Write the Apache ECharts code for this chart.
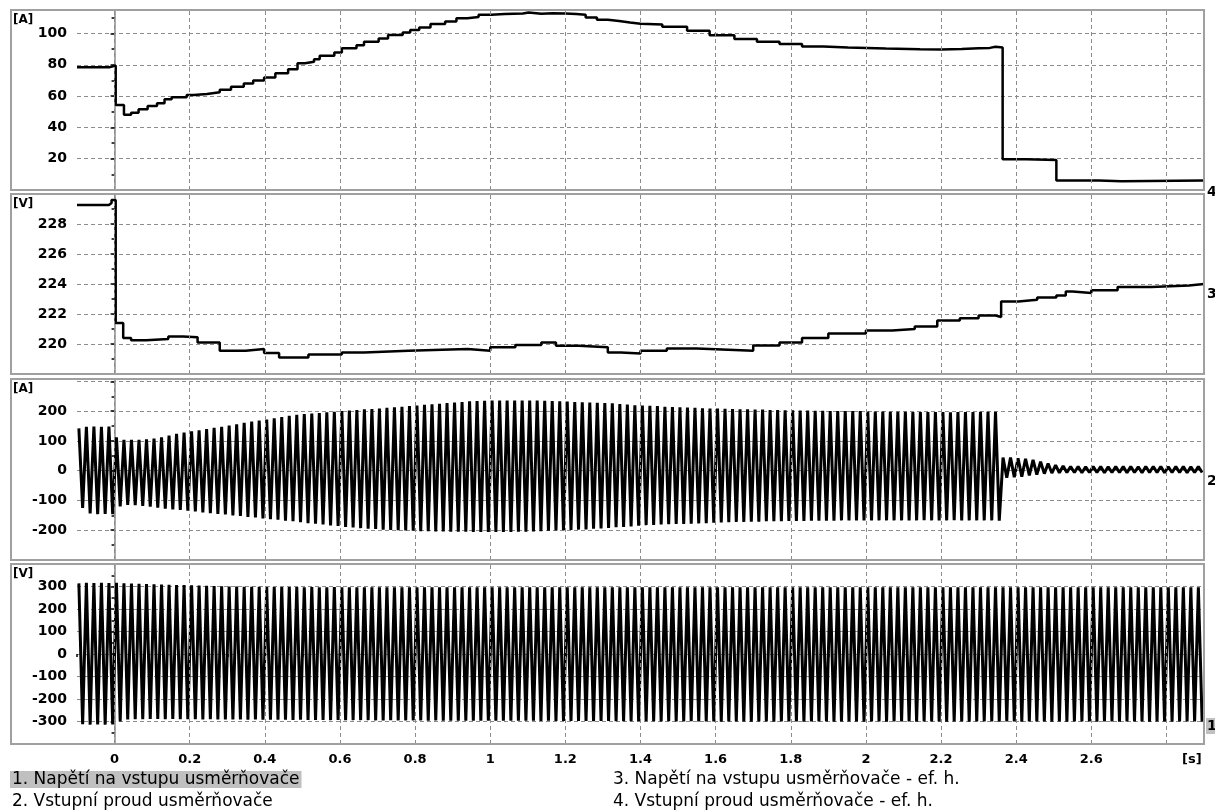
<!DOCTYPE html>
<html>
<head>
<meta charset="utf-8">
<title>Usměrňovač - průběhy</title>
<script src="https://cdn.jsdelivr.net/npm/echarts@6/dist/echarts.min.js"></script>
<style>
  html, body { margin: 0; padding: 0; background: #fff; }
  #main { width: 1215px; height: 812px; }
</style>
</head>
<body>
<div id="main"></div>
<script>
// time axis [s]
var timeStart = -0.1;
var timeEnd = 2.9;
var cyclePeriod = 0.02; // 50 Hz, one peak pair per mains cycle
var xGridLines = [0, 0.2, 0.4, 0.6, 0.8, 1, 1.2, 1.4, 1.6, 1.8, 2, 2.2, 2.4, 2.6, 2.8];
var xTickLabels = ['0', '0.2', '0.4', '0.6', '0.8', '1', '1.2', '1.4', '1.6', '1.8', '2', '2.2', '2.4', '2.6'];

// 4. Vstupní proud usměrňovače - ef. h. [A]
var rmsCurrentTime = [-0.1, -0.012, 0.003, 0.025, 0.044, 0.064, 0.088, 0.113, 0.133, 0.152, 0.192, 0.211,
    0.246, 0.28, 0.31, 0.344, 0.369, 0.398, 0.428, 0.462, 0.487, 0.507, 0.531, 0.546, 0.585, 0.605, 0.644,
    0.664, 0.703, 0.728, 0.767, 0.787, 0.811, 0.841, 0.88, 0.91, 0.939, 0.969, 1.003, 1.038, 1.087, 1.102,
    1.136, 1.166, 1.2, 1.229, 1.254, 1.284, 1.313, 1.343, 1.372, 1.4, 1.458, 1.524, 1.584, 1.65, 1.71, 1.77,
    1.83, 1.887, 1.952, 2.053, 2.144, 2.2, 2.255, 2.3, 2.33, 2.345, 2.364, 2.426, 2.507, 2.62, 2.68, 2.9];
var rmsCurrentValue = [78.5, 79.5, 54.3, 48, 49.4, 51.6, 53.7, 55.4, 58, 59.3, 60.7, 61.4,
    62.5, 64, 66, 68, 70, 71.8, 74.6, 77.2, 81, 81.9, 83.6, 85.7, 87.8, 90.6, 92.5,
    94.7, 96.8, 99, 100.6, 102.3, 103.8, 106, 107.7, 109.8, 110.5, 112, 112.4, 112.8, 113.4, 112.6,
    113, 112.8, 112.4, 112, 110.2, 108.7, 107.9, 107, 106.2, 105.8, 104.3, 101.7, 98.9, 96.4, 94.7, 93.2,
    91.7, 91, 90.4, 90, 89.8, 90.1, 90.6, 90.8, 91.5, 91.1, 19.6, 19.1, 6.1, 5.6, 6, 6];

// 3. Napětí na vstupu usměrňovače - ef. h. [V]
var rmsVoltageTime = [-0.1, -0.015, -0.008, 0.003, 0.023, 0.044, 0.084, 0.143, 0.182, 0.221, 0.28, 0.349,
    0.398, 0.438, 0.516, 0.605, 0.664, 0.782, 0.94, 1.0, 1.067, 1.136, 1.175, 1.236, 1.313, 1.348, 1.4,
    1.47, 1.55, 1.65, 1.7, 1.77, 1.83, 1.9, 2.0, 2.07, 2.13, 2.19, 2.25, 2.3, 2.345, 2.36, 2.406, 2.456,
    2.507, 2.532, 2.55, 2.6, 2.67, 2.76, 2.86, 2.9];
var rmsVoltageValue = [229.27, 229.4, 229.6, 221.4, 220.4, 220.25, 220.33, 220.5, 220.45, 220.1, 219.55, 219.66,
    219.4, 219.1, 219.3, 219.44, 219.55, 219.66, 219.55, 219.78, 219.93, 220.1, 219.89, 219.78, 219.44, 219.37, 219.55,
    219.7, 219.6, 219.55, 219.9, 220.1, 220.4, 220.7, 220.9, 221.0, 221.16, 221.56, 221.72, 221.9, 221.8, 222.84, 222.95, 223.1,
    223.24, 223.5, 223.4, 223.58, 223.8, 223.9, 224.0, 224.0];

// 2. Vstupní proud usměrňovače [A] - positive / negative peak of every cycle
var currentPos = [
    142, 147, 148, 147, 148, 112, 104, 104, 104, 105,
    108, 112, 118, 124, 128, 132, 136, 140, 144, 147,
    152, 156, 161, 165, 168, 172, 176, 180, 184, 188,
    190, 192, 194, 196, 198, 200, 202, 204, 206, 207,
    209, 211, 213, 215, 217, 219, 221, 223, 225, 227,
    229, 231, 233, 234, 235, 236, 236, 236, 236, 236,
    236, 236, 235, 234, 233, 232, 231, 230, 229, 228,
    227, 226, 224, 222, 220, 219, 218, 217, 215, 214,
    213, 212, 211, 210, 209, 209, 208, 207, 206, 206,
    205, 205, 204, 204, 203, 203, 202, 202, 201, 201,
    200, 200, 200, 200, 200, 199, 199, 199, 198, 198,
    198, 197, 197, 197, 197, 197, 196, 197, 197, 197,
    198, 198, 198, 44, 44, 42, 40, 36, 30, 24,
    19, 16, 14, 14, 13, 14, 14, 13, 14, 14,
    14, 13, 14, 14, 14, 13, 14, 14, 13, 14
];
var currentNeg = [
    -125, -144, -146, -145, -146, -120, -115, -116, -118, -121,
    -124, -128, -130, -132, -134, -137, -140, -143, -145, -147,
    -150, -152, -155, -157, -160, -163, -165, -168, -170, -173,
    -176, -178, -181, -184, -186, -189, -191, -193, -195, -196,
    -198, -199, -200, -201, -202, -203, -203, -204, -204, -205,
    -205, -205, -206, -206, -206, -206, -206, -206, -205, -205,
    -204, -203, -202, -201, -200, -199, -198, -197, -195, -194,
    -192, -190, -189, -187, -185, -183, -182, -181, -180, -179,
    -179, -178, -177, -176, -175, -174, -173, -172, -172, -171,
    -171, -170, -170, -170, -169, -169, -169, -168, -168, -168,
    -168, -167, -167, -167, -167, -167, -167, -167, -167, -167,
    -167, -167, -166, -167, -167, -167, -166, -167, -167, -167,
    -167, -167, -168, -24, -22, -20, -16, -13, -10, -8,
    -7, -6, -6, -7, -6, -6, -7, -6, -6, -7,
    -6, -7, -6, -6, -7, -6, -6, -7, -6, -6
];

// 1. Napětí na vstupu usměrňovače [V] - positive / negative peak of every cycle
var voltagePos = [
    314, 316, 315, 316, 315, 316, 314, 313, 312, 311,
    310, 309, 308, 307, 306, 305, 304, 303, 302, 301,
    300, 300, 299, 299, 299, 298, 298, 298, 298, 298,
    297, 298, 297, 297, 298, 297, 297, 297, 296, 297,
    297, 296, 297, 297, 296, 297, 296, 296, 297, 296,
    296, 297, 296, 296, 297, 296, 296, 297, 296, 296,
    297, 296, 296, 297, 296, 296, 297, 296, 296, 297,
    296, 296, 297, 296, 296, 297, 296, 296, 297, 296,
    296, 297, 296, 296, 297, 296, 296, 297, 296, 296,
    297, 296, 296, 297, 296, 296, 297, 296, 296, 297,
    296, 296, 297, 296, 296, 297, 296, 296, 297, 296,
    296, 297, 296, 296, 297, 296, 296, 297, 296, 296,
    297, 296, 296, 297, 296, 296, 297, 296, 296, 297,
    296, 296, 297, 296, 296, 297, 296, 296, 297, 296,
    296, 297, 296, 296, 297, 296, 296, 297, 296, 296
];
var voltageNeg = [
    -312, -314, -313, -314, -313, -300, -291, -290, -290, -289,
    -289, -290, -289, -290, -290, -290, -291, -290, -291, -291,
    -291, -291, -292, -291, -292, -292, -292, -292, -293, -292,
    -293, -293, -293, -294, -293, -294, -294, -294, -294, -295,
    -295, -294, -295, -295, -295, -295, -296, -295, -296, -296,
    -296, -296, -296, -297, -296, -297, -297, -297, -297, -297,
    -297, -298, -297, -298, -298, -298, -298, -298, -299, -298,
    -298, -299, -299, -299, -299, -299, -299, -300, -299, -300,
    -300, -299, -300, -300, -300, -301, -300, -300, -300, -301,
    -300, -300, -301, -300, -300, -300, -301, -300, -300, -300,
    -301, -300, -300, -300, -301, -300, -300, -301, -300, -300,
    -300, -301, -300, -300, -300, -301, -300, -300, -301, -300,
    -300, -300, -301, -300, -300, -301, -300, -300, -300, -301,
    -300, -301, -300, -300, -300, -301, -300, -300, -301, -300,
    -300, -300, -301, -300, -300, -301, -300, -300, -300, -301
];

var seriesNames = ['1. Napětí na vstupu usměrňovače', '2. Vstupní proud usměrňovače',
    '3. Napětí na vstupu usměrňovače - ef. h.', '4. Vstupní proud usměrňovače - ef. h.'];

function pairs(xs, ys) {
    return xs.map(function (x, i) { return [x, ys[i]]; });
}
// one cycle = positive peak then negative peak
function peakPairs(pos, neg) {
    var out = [];
    for (var i = 0; i < pos.length; i++) {
        var t0 = timeStart + i * cyclePeriod;
        out.push([t0 + cyclePeriod * 0.25, pos[i]]);
        out.push([t0 + cyclePeriod * 0.75, neg[i]]);
    }
    return out;
}

var boldFont = {color: '#000', fontFamily: 'DejaVu Sans', fontWeight: 'bold', fontSize: 14};
var gridGray = '#8c8c8c';

function yAxisFor(idx, min, max, step, lo, hi) {
    return {
        type: 'value', gridIndex: idx, min: min, max: max, interval: step,
        axisLine: {show: true, lineStyle: {color: gridGray, width: 1.5}},
        axisTick: {show: true, length: 4, lineStyle: {color: '#000', width: 1.5}},
        minorTick: {show: true, splitNumber: 2, length: 3, lineStyle: {color: '#000', width: 1.5}},
        axisLabel: Object.assign({margin: 10, formatter: function (v) {
            return (v < lo - 1e-9 || v > hi + 1e-9) ? '' : String(v);
        }}, boldFont),
        splitLine: {show: true, lineStyle: {color: gridGray, type: [4, 3], width: 1}}
    };
}

function xAxisFor(idx) {
    var last = idx === 3;
    return {
        type: 'value', gridIndex: idx, min: timeStart, max: timeEnd, interval: 0.1,
        offset: last ? 3 : 0,
        axisLine: {show: false},
        axisTick: {show: last, length: 3, lineStyle: {color: '#000', width: 1.5}},
        splitLine: {show: false},
        axisLabel: Object.assign({show: last, margin: 6, formatter: function (v) {
            for (var i = 0; i < xTickLabels.length; i++) {
                if (Math.abs(parseFloat(xTickLabels[i]) - v) < 1e-6) return xTickLabels[i];
            }
            return '';
        }}, boldFont, {fontSize: 13})
    };
}

function gridLineSeries(idx) {
    return {
        type: 'line', xAxisIndex: idx, yAxisIndex: idx, data: [], z: 1, silent: true,
        markLine: {
            silent: true, symbol: ['none', 'none'], label: {show: false}, animation: false,
            lineStyle: {color: gridGray, type: [4, 3], width: 1},
            data: xGridLines.map(function (v) { return {xAxis: v}; })
        }
    };
}

function traceSeries(idx, name, data, step, width) {
    return {
        name: name, type: 'line', xAxisIndex: idx, yAxisIndex: idx, data: data,
        step: step, showSymbol: false, z: 3, silent: true,
        lineStyle: {color: '#000', width: width}
    };
}

var panelTops = [10, 194, 379, 564];
var panelHeights = [180, 180, 181, 180];
var unitTexts = ['[A]', '[V]', '[A]', '[V]'];

var graphics = [];
panelTops.forEach(function (top, i) {
    graphics.push({type: 'rect', z: 10, silent: true,
        shape: {x: 11, y: top, width: 1193, height: panelHeights[i]},
        style: {fill: 'none', stroke: '#a0a0a0', lineWidth: 2}});
    graphics.push({type: 'text', z: 10, left: 13, top: top + 4,
        style: {text: unitTexts[i], fill: '#000', font: 'bold 12px "DejaVu Sans"'}});
});
// trace numbers at the right edge
[['4', 185], ['3', 287], ['2', 474]].forEach(function (t) {
    graphics.push({type: 'text', z: 10, left: 1207, top: t[1],
        style: {text: t[0], fill: '#000', font: 'bold 14px "DejaVu Sans"'}});
});
graphics.push({type: 'text', z: 10, left: 1206, top: 718,
    style: {text: '1', fill: '#000', font: 'bold 14px "DejaVu Sans"', backgroundColor: '#c0c0c0', padding: [1, 2, 1, 1]}});
graphics.push({type: 'text', z: 10, left: 1182, top: 753,
    style: {text: '[s]', fill: '#000', font: 'bold 13px "DejaVu Sans"'}});
// legend
graphics.push({type: 'text', z: 10, left: 10, top: 771,
    style: {text: seriesNames[0], fill: '#000', font: '17px "DejaVu Sans"', backgroundColor: '#c0c0c0', padding: [0, 2, 0, 2]}});
graphics.push({type: 'text', z: 10, left: 12, top: 793,
    style: {text: seriesNames[1], fill: '#000', font: '17px "DejaVu Sans"'}});
graphics.push({type: 'text', z: 10, left: 613, top: 771,
    style: {text: seriesNames[2], fill: '#000', font: '17px "DejaVu Sans"'}});
graphics.push({type: 'text', z: 10, left: 613, top: 793,
    style: {text: seriesNames[3], fill: '#000', font: '17px "DejaVu Sans"'}});

var myChart = echarts.init(document.getElementById('main'));
var option = {
    backgroundColor: '#fff',
    animation: false,
    grid: panelTops.map(function (top, i) {
        return {left: 77, right: 11, top: top, height: panelHeights[i]};
    }),
    xAxis: [xAxisFor(0), xAxisFor(1), xAxisFor(2), xAxisFor(3)],
    yAxis: [
        yAxisFor(0, 0, 115, 20, 20, 100),
        yAxisFor(1, 218, 230, 2, 220, 228),
        yAxisFor(2, -300, 308, 100, -200, 200),
        yAxisFor(3, -400, 400, 100, -300, 300)
    ],
    graphic: graphics,
    series: [
        gridLineSeries(0), gridLineSeries(1), gridLineSeries(2), gridLineSeries(3),
        traceSeries(0, seriesNames[3], pairs(rmsCurrentTime, rmsCurrentValue), 'end', 2.5),
        traceSeries(1, seriesNames[2], pairs(rmsVoltageTime, rmsVoltageValue), 'end', 2.5),
        traceSeries(2, seriesNames[1], peakPairs(currentPos, currentNeg), false, 3),
        traceSeries(3, seriesNames[0], peakPairs(voltagePos, voltageNeg), false, 3)
    ]
};
myChart.setOption(option);
</script>
</body>
</html>
